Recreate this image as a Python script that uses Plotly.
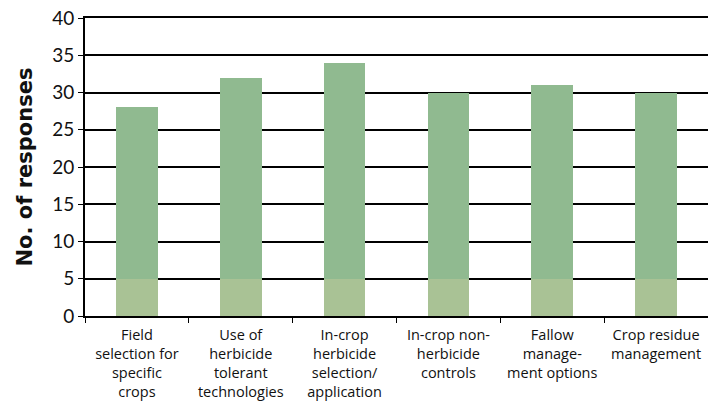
import plotly.graph_objects as go

categories = [
    "Field<br>selection for<br>specific<br>crops",
    "Use of<br>herbicide<br>tolerant<br>technologies",
    "In-crop<br>herbicide<br>selection/<br>application",
    "In-crop non-<br>herbicide<br>controls",
    "Fallow<br>manage-<br>ment options",
    "Crop residue<br>management",
]
responses = [28, 32, 34, 30, 31, 30]
y_ticks = [0, 5, 10, 15, 20, 25, 30, 35, 40]

band = 5
base_vals = [min(v, band) for v in responses]
top_vals = [v - b for v, b in zip(responses, base_vals)]

fig = go.Figure()
fig.add_trace(go.Bar(x=categories, y=base_vals, marker=dict(color="#a9c295", line=dict(width=0)),
                     width=0.4, showlegend=False, hoverinfo="skip"))
fig.add_trace(go.Bar(x=categories, y=top_vals, marker=dict(color="#90ba90", line=dict(width=0)),
                     width=0.4, showlegend=False))

fig.update_layout(
    template="simple_white",
    barmode="stack",
    width=702, height=396,
    margin=dict(l=77, r=2, t=10, b=88, autoexpand=False),
    paper_bgcolor="white", plot_bgcolor="white",
    font=dict(family="Lato, sans-serif", color="#111"),
)
fig.update_yaxes(
    range=[0, 40], tickvals=y_ticks, ticktext=[str(t) for t in y_ticks],
    tickfont=dict(family="Lato, sans-serif", size=19, color="#111"),
    ticklabeloverflow="allow", automargin=False,
    showgrid=True, gridcolor="black", gridwidth=1.5,
    showline=True, linecolor="black", linewidth=2, mirror=True,
    ticks="outside", ticklen=5, tickcolor="black",
    title=dict(text="<b>No. of responses</b>",
               font=dict(family="DejaVu Sans, sans-serif", size=21, color="#111"), standoff=14),
    zeroline=False,
)
fig.update_xaxes(
    tickfont=dict(family="Open Sans, sans-serif", size=14.5, color="#111"),
    tickangle=0,
    ticklabelstandoff=5, ticklabeloverflow="allow", automargin=False,
    showline=True, linecolor="black", linewidth=2, mirror=True,
    ticks="outside", tickson="boundaries", ticklen=5, tickcolor="black",
    showgrid=False,
)

fig.write_html("out.html")
